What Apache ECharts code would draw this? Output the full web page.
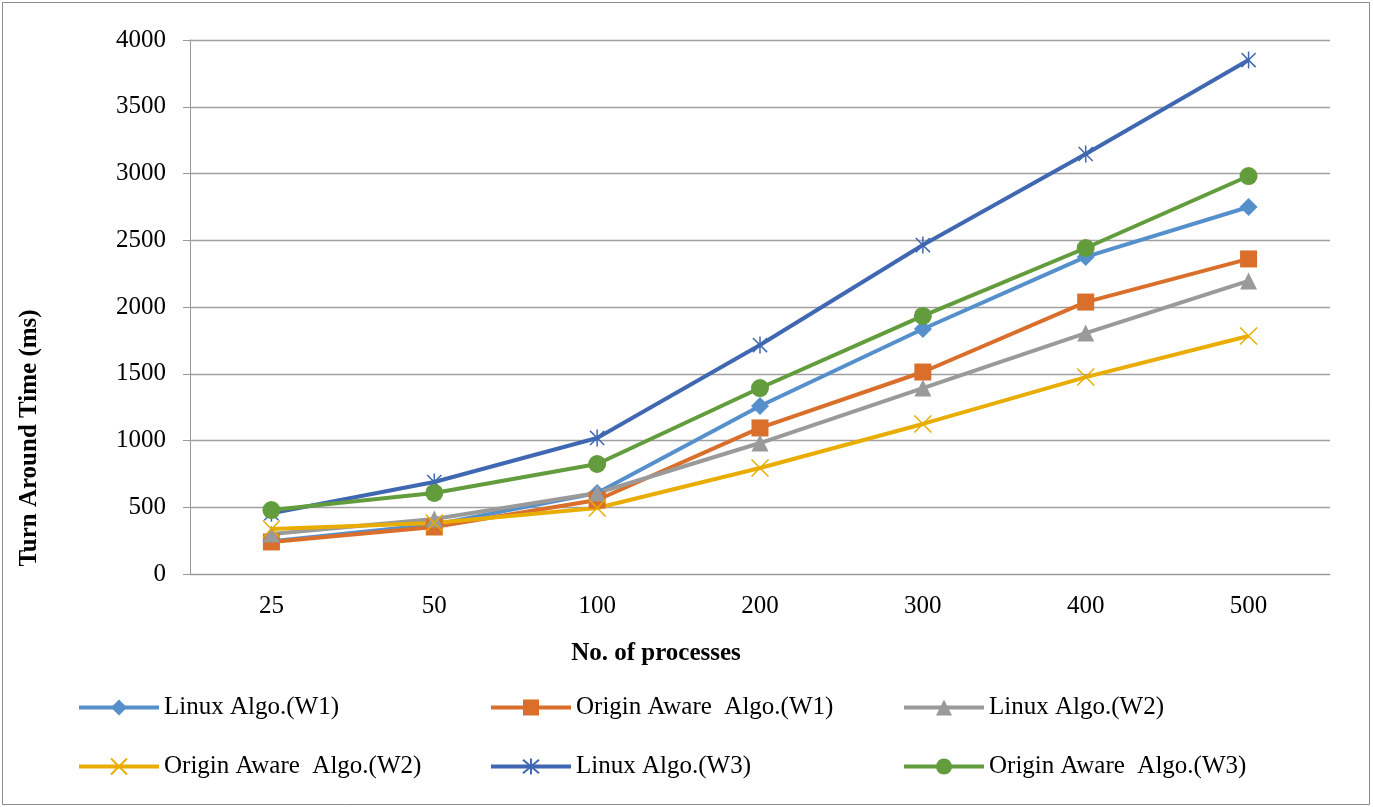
<!DOCTYPE html>
<html>
<head>
<meta charset="utf-8">
<script src="https://cdn.jsdelivr.net/npm/echarts@6/dist/echarts.min.js"></script>
<style>
  html, body { margin: 0; padding: 0; background: #fff; }
  #chart { width: 1373px; height: 807px; }
</style>
</head>
<body>
<div id="chart"></div>
<script>
// categories (no. of processes)
var processes = ['25', '50', '100', '200', '300', '400', '500'];

// turn around time (ms)
var linuxW1 = [245, 370, 607, 1258, 1835, 2375, 2749];
var originW1 = [240, 352, 554, 1094, 1513, 2037, 2360];
var linuxW2 = [300, 412, 607, 981, 1393, 1805, 2195];
var originW2 = [337, 382, 494, 794, 1124, 1475, 1783];
var linuxW3 = [455, 689, 1019, 1715, 2464, 3146, 3850];
var originW3 = [479, 607, 824, 1393, 1933, 2442, 2981];

var font = '"Liberation Serif", "Times New Roman", serif';

var xMark = 'path://M0,0L10,10M10,0L0,10';
var starMark = 'path://M0,0L10,10M10,0L0,10M5,-1L5,11';

function mkSeries(name, data, color, symbol, size, stroke) {
  return {
    name: name,
    type: 'line',
    data: data,
    symbol: symbol,
    symbolSize: size,
    symbolKeepAspect: true,
    lineStyle: { width: 4, color: color },
    itemStyle: stroke
      ? { color: color, borderColor: color, borderWidth: 1.5 }
      : { color: color },
    emphasis: { disabled: true }
  };
}

var myChart = echarts.init(document.getElementById('chart'));

var legendBase = {
  orient: 'vertical',
  itemWidth: 80,
  itemHeight: 20,
  itemGap: 34,
  lineStyle: { width: 4 },
  textStyle: { fontFamily: font, fontSize: 25, color: '#000' }
};

myChart.setOption({
  backgroundColor: '#fff',
  animation: false,
  graphic: [
    {
      type: 'rect',
      shape: { x: 2.5, y: 2.5, width: 1367, height: 802 },
      style: { fill: 'none', stroke: '#8c8c8c', lineWidth: 1 }
    },
    {
      type: 'text',
      x: 30,
      y: 438,
      rotation: Math.PI / 2,
      style: {
        text: 'Turn Around Time (ms)',
        font: 'bold 25px ' + font,
        fill: '#000',
        align: 'center',
        verticalAlign: 'middle'
      }
    },
    {
      type: 'text',
      x: 656,
      y: 654,
      style: {
        text: 'No. of processes',
        font: 'bold 25px ' + font,
        fill: '#000',
        align: 'center',
        verticalAlign: 'middle'
      }
    }
  ],
  legend: [
    Object.assign({ left: 72, top: 690, data: ['Linux Algo.(W1)', 'Origin Aware  Algo.(W2)'] }, legendBase),
    Object.assign({ left: 484, top: 690, data: ['Origin Aware  Algo.(W1)', 'Linux Algo.(W3)'] }, legendBase),
    Object.assign({ left: 897, top: 690, data: ['Linux Algo.(W2)', 'Origin Aware  Algo.(W3)'] }, legendBase)
  ],
  grid: {
    left: 190,
    right: 43,
    top: 40,
    bottom: 233
  },
  xAxis: {
    type: 'category',
    data: processes,
    boundaryGap: true,
    axisLine: { lineStyle: { color: '#999', width: 1 } },
    axisTick: { alignWithLabel: true, length: 6, lineStyle: { color: '#999' } },
    axisLabel: { fontFamily: font, fontSize: 25, color: '#000', margin: 20 }
  },
  yAxis: {
    type: 'value',
    min: 0,
    max: 4000,
    interval: 500,
    axisLine: { show: true, lineStyle: { color: '#999', width: 1 } },
    axisTick: { show: true, length: 7, lineStyle: { color: '#999' } },
    axisLabel: {
      fontFamily: font, fontSize: 25, color: '#000', margin: 24,
      formatter: function (v) { return String(v); }
    },
    splitLine: { lineStyle: { color: '#a0a0a0', width: 1.3 } }
  },
  series: [
    mkSeries('Linux Algo.(W1)', linuxW1, '#5590cc', 'diamond', 18, false),
    mkSeries('Origin Aware  Algo.(W1)', originW1, '#d96f2b', 'rect', 17, false),
    mkSeries('Linux Algo.(W2)', linuxW2, '#9a9a9a', 'triangle', 17, false),
    mkSeries('Origin Aware  Algo.(W2)', originW2, '#e8ad00', xMark, 17, true),
    mkSeries('Linux Algo.(W3)', linuxW3, '#4068b2', starMark, 17, true),
    mkSeries('Origin Aware  Algo.(W3)', originW3, '#629c3c', 'circle', 18, false)
  ]
});
</script>
</body>
</html>
